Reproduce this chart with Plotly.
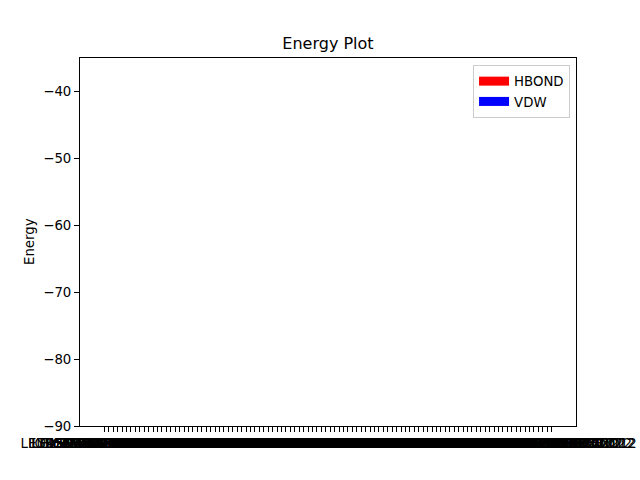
import plotly.graph_objects as go

residues = ["LEU", "ILE", "LYS", "GLY", "HIS", "TYR", "ASN", "GLY", "SER", "ALA",
            "VAL", "THR", "ASP", "GLU", "PHE", "MET", "ARG", "GLN", "TRP", "PRO"]
resnums = [12, 15, 18, 21, 24, 27, 30, 33, 36, 39, 42, 45, 48, 51, 54, 57, 60, 63, 66, 69,
           72, 75, 78, 81, 84, 87, 90, 93, 96, 99, 102, 105, 108, 111, 114, 117, 120, 123,
           126, 129, 132, 135, 138, 141, 144, 147, 150, 153, 156, 159, 162, 165, 168, 171,
           174, 177, 180, 183, 186, 189, 192, 195, 198, 201, 204, 207, 210, 213, 216, 219,
           222, 225, 228, 231, 234, 237, 240, 243, 246, 249, 252, 255, 258, 261, 264, 267,
           270, 273, 276, 279, 282, 285, 288, 291, 294, 297, 300, 303, 306, 309, 312, 315]
categories = [f"{residues[i % len(residues)]}{r}:A:N-LIG901:B:O12" for i, r in enumerate(resnums)]

hbond = [-1.2, -0.8, -2.1, -0.5, -1.6, -0.9, -1.1, -2.4, -0.7, -1.3, -0.6, -1.8, -1.0, -0.4,
         -2.0, -1.5, -0.9, -0.3, -1.7, -1.1, -0.8, -2.2, -1.4, -0.6, -1.9, -0.5, -1.2, -0.7,
         -1.6, -2.3, -0.9, -1.0, -0.4, -1.8, -1.3, -0.6, -2.1, -0.8, -1.5, -1.1, -0.7, -1.9,
         -0.5, -1.4, -2.0, -0.9, -1.2, -0.6, -1.7, -0.8, -1.3, -2.2, -0.4, -1.0, -1.6, -0.7,
         -1.1, -1.8, -0.5, -2.4, -0.9, -1.4, -0.6, -1.2, -1.9, -0.8, -1.5, -0.3, -2.0, -1.1,
         -0.7, -1.6, -1.3, -0.9, -2.1, -0.5, -1.0, -1.7, -0.8, -1.4, -0.6, -2.3, -1.2, -0.9,
         -1.5, -0.4, -1.8, -1.1, -0.7, -2.0, -1.3, -0.6, -1.6, -0.9, -1.2, -2.2, -0.5, -1.0,
         -1.7, -0.8, -1.4, -0.6]
vdw = [-3.1, -2.4, -4.0, -1.8, -2.9, -3.5, -2.2, -4.4, -1.6, -3.0, -2.7, -3.8, -2.1, -1.9,
       -4.2, -3.3, -2.5, -1.4, -3.7, -2.8, -2.0, -4.1, -3.2, -1.7, -3.9, -2.3, -3.0, -2.6,
       -3.4, -4.3, -2.2, -2.9, -1.5, -3.6, -3.1, -2.0, -4.0, -2.4, -3.3, -2.7, -1.9, -3.8,
       -2.1, -3.2, -4.1, -2.5, -3.0, -1.8, -3.5, -2.3, -3.1, -4.2, -1.6, -2.8, -3.4, -2.0,
       -2.9, -3.7, -1.7, -4.4, -2.6, -3.2, -2.1, -3.0, -3.9, -2.4, -3.3, -1.5, -4.0, -2.8,
       -2.2, -3.5, -3.1, -2.5, -4.1, -1.9, -2.7, -3.6, -2.3, -3.2, -2.0, -4.3, -3.0, -2.6,
       -3.4, -1.6, -3.8, -2.9, -2.1, -4.0, -3.1, -1.8, -3.5, -2.4, -3.0, -4.2, -1.9, -2.7,
       -3.6, -2.2, -3.3, -2.0]

series_names = ["HBOND", "VDW"]
series_colors = ["red", "blue"]

y_ticks = [-90, -80, -70, -60, -50, -40]
y_range = [-90, -35]

n = len(categories)
span = n - 0.2
x_range = [-0.4 - 0.05 * span, n - 0.6 + 0.05 * span]

FONT = "DejaVu Sans"
ML, MR = 80, 64
PW = 640 - ML - MR

fig = go.Figure()
for vals, name, col in zip([hbond, vdw], series_names, series_colors):
    fig.add_trace(go.Bar(x=list(range(n)), y=vals, name=name, marker_color=col,
                         marker_line_width=0, width=0.8, showlegend=False,
                         legendgroup=name))
    # legend entry drawn as a wide patch like matplotlib's
    fig.add_trace(go.Scatter(x=[None], y=[None], mode="lines", name=name,
                             line=dict(color=col, width=9), legendgroup=name))

fig.add_annotation(text="Energy", xref="paper", yref="paper",
                   x=(29 - ML) / PW, y=0.5, xanchor="center", yanchor="middle",
                   textangle=-90, showarrow=False, font=dict(size=13.3))

fig.update_layout(
    width=640, height=480,
    margin=dict(l=ML, r=MR, t=58, b=54, pad=0, autoexpand=False),
    paper_bgcolor="white", plot_bgcolor="white",
    barmode="overlay",
    font=dict(family=FONT, size=13.3, color="black"),
    title=dict(text="Energy Plot", x=0.5, xref="paper", xanchor="center",
               y=1 - 43 / 480, yanchor="middle", font=dict(size=16, color="black")),
    showlegend=True,
    legend=dict(x=0.988, y=0.981, xanchor="right", yanchor="top",
                bordercolor="#cccccc", borderwidth=1, bgcolor="rgba(255,255,255,0.8)",
                font=dict(size=13.3), tracegroupgap=0, itemwidth=30),
    xaxis=dict(
        range=x_range, tickmode="array", tickvals=list(range(n)), ticktext=categories,
        tickangle=0, ticks="outside", ticklen=5, tickwidth=1, tickcolor="black",
        showline=True, linecolor="black", linewidth=1, mirror=True, automargin=False,
        showgrid=False, zeroline=False, tickfont=dict(size=13.3),
    ),
    yaxis=dict(
        range=y_range, tickmode="array", tickvals=y_ticks,
        ticktext=["\u2212" + str(abs(v)) for v in y_ticks],
        ticks="outside", ticklen=5, tickwidth=1, tickcolor="black",
        showline=True, linecolor="black", linewidth=1, mirror=True, automargin=False,
        showgrid=False, zeroline=False, tickfont=dict(size=13.3),
    ),
)

fig.write_html("out.html")
